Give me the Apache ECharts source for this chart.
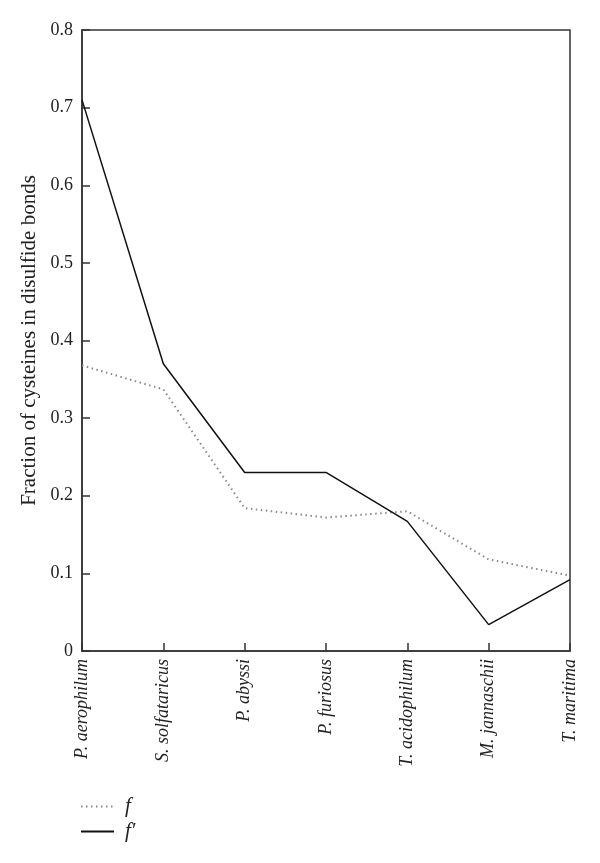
<!DOCTYPE html>
<html>
<head>
<meta charset="utf-8">
<script src="https://cdn.jsdelivr.net/npm/echarts@6/dist/echarts.min.js"></script>
<style>html,body{margin:0;padding:0;background:#fff}#c{width:600px;height:863px}</style>
</head>
<body>
<div id="c"></div>
<script>
const categories = ['P. aerophilum','S. solfataricus','P. abyssi','P. furiosus','T. acidophilum','M. jannaschii','T. maritima'];
const fValues = [0.368, 0.337, 0.184, 0.172, 0.180, 0.118, 0.097];
const fPrimeValues = [0.710, 0.370, 0.230, 0.230, 0.167, 0.034, 0.092];
const yTicks = [0, 0.1, 0.2, 0.3, 0.4, 0.5, 0.6, 0.7, 0.8];

const font = 'Liberation Serif';
const chart = echarts.init(document.getElementById('c'), null, {renderer:'canvas'});
chart.setOption({
  animation: false,
  backgroundColor: '#fff',
  grid: {left: 82, right: 30, top: 30, bottom: 212, show: true, borderColor: '#333', borderWidth: 1.5, backgroundColor: 'transparent'},
  legend: {
    orient: 'vertical', left: 75, top: 791, itemWidth: 33, itemHeight: 14, itemGap: 4,
    itemStyle: {opacity: 0},
    textStyle: {fontFamily: font, fontStyle: 'italic', fontSize: 21, color: '#222', padding: [0, 0, 0, 6]},
    data: ['f', 'f\u2032']
  },
  xAxis: {
    type: 'category', data: categories, boundaryGap: false,
    axisLine: {lineStyle: {color: '#333', width: 1.5}},
    axisTick: {inside: true, length: 8, lineStyle: {color: '#333', width: 1.5}},
    axisLabel: {rotate: 90, margin: 8, fontFamily: font, fontStyle: 'italic', fontSize: 18, color: '#222', interval: 0},
    splitLine: {show: false}
  },
  yAxis: {
    type: 'value', min: 0, max: 0.8, interval: 0.1,
    name: 'Fraction of cysteines in disulfide bonds', nameLocation: 'middle', nameGap: 36,
    nameTextStyle: {fontFamily: font, fontSize: 21, color: '#222'},
    axisLine: {show: true, lineStyle: {color: '#333', width: 1.5}},
    axisTick: {show: true, inside: true, length: 8, lineStyle: {color: '#333', width: 1.5}},
    axisLabel: {fontFamily: font, fontSize: 18, color: '#222', margin: 9,
      formatter: v => { const t = yTicks.find(x => Math.abs(x - v) < 1e-9); return t === undefined ? '' : (t === 0 ? '0' : String(t)); }},
    splitLine: {show: false}
  },
  series: [
    {name: 'f', type: 'line', data: fValues, symbol: 'none',
     lineStyle: {color: '#888', width: 2, type: [1.5, 3.5]}, itemStyle: {color: '#888'}},
    {name: 'f\u2032', type: 'line', data: fPrimeValues, symbol: 'none',
     lineStyle: {color: '#111', width: 1.5, type: 'solid'}, itemStyle: {color: '#111'}}
  ]
});
</script>
</body>
</html>
